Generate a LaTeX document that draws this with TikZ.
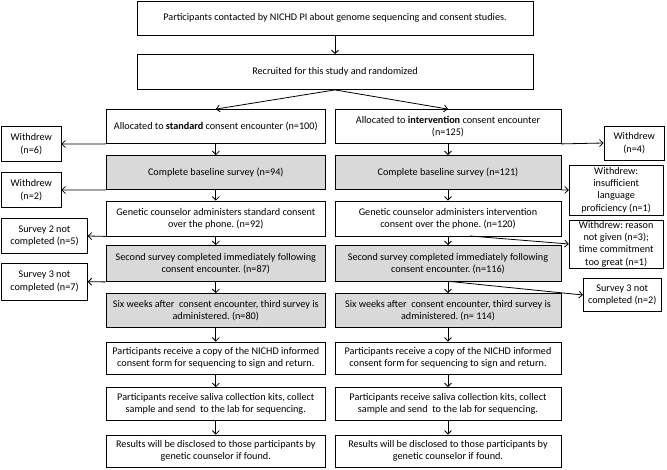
\documentclass[tikz,border=0pt]{standalone}
\usepackage{fontspec}
\setmainfont{Carlito}
\usetikzlibrary{arrows.meta}
\definecolor{gris}{RGB}{217,217,217}
\begin{document}
\begin{tikzpicture}[x=1pt,y=-1pt,
    caja/.style={draw, line width=0.8pt, align=center, inner sep=0pt,
      minimum height=34pt, font=\fontsize{10.2}{12.4}\selectfont\frenchspacing},
    izq/.style={caja, minimum width=219.5pt},
    der/.style={caja, minimum width=226pt},
    sombra/.style={fill=gris},
    flecha/.style={line width=0.8pt, -{Straight Barb[length=3.5pt,width=7pt]}}]
    \useasboundingbox (0,0) rectangle (667,470);

    % Inicio
    \node[caja, minimum width=396pt] (contacto) at (335,18) {Participants contacted by NICHD PI about genome sequencing and consent studies.};
    \node[caja, minimum width=396pt, minimum height=35pt] (reclutado) at (335,72) {Recruited for this study and randomized};

    % Columna estandar
    \node[izq] (asigE) at (215.8,126.5) {Allocated to \textbf{standard} consent encounter (n=100)};
    \node[izq, sombra] (baseE) at (215.8,172.5) {Complete baseline survey (n=94)};
    \node[izq, minimum height=35pt] (consejoE) at (215.8,218.5) {Genetic counselor administers standard consent\\over the phone. (n=92)};
    \node[izq, sombra, minimum height=36pt] (segundaE) at (215.8,263.5) {Second survey completed immediately following\\consent encounter. (n=87)};
    \node[izq, sombra] (terceraE) at (215.8,310.5) {Six weeks after\ \ consent encounter, third survey is\\administered. (n=80)};
    \node[izq, minimum height=32pt] (formaE) at (215.8,358) {Participants receive a copy of the NICHD informed\\consent form for sequencing to sign and return.};
    \node[izq, minimum height=33pt] (salivaE) at (215.8,404) {Participants receive saliva collection kits, collect\\sample and send\ \ to the lab for sequencing.};
    \node[izq, minimum height=32pt] (resultE) at (215.8,451) {Results will be disclosed to those participants by\\genetic counselor if found.};

    % Columna intervencion
    \node[der] (asigI) at (448,126.5) {Allocated to \textbf{intervention} consent encounter\\(n=125)};
    \node[der, sombra] (baseI) at (448,172.5) {Complete baseline survey (n=121)};
    \node[der, minimum height=35pt] (consejoI) at (448,218.5) {Genetic counselor administers intervention\\consent over the phone. (n=120)};
    \node[der, sombra, minimum height=36pt] (segundaI) at (448,263.5) {Second survey completed immediately following\\consent encounter. (n=116)};
    \node[der, sombra] (terceraI) at (448,310.5) {Six weeks after\ \ consent encounter, third survey is\\administered. (n= 114)};
    \node[der, minimum height=32pt] (formaI) at (448,358) {Participants receive a copy of the NICHD informed\\consent form for sequencing to sign and return.};
    \node[der, minimum height=33pt] (salivaI) at (448,404) {Participants receive saliva collection kits, collect\\sample and send\ \ to the lab for sequencing.};
    \node[der, minimum height=32pt] (resultI) at (448,451) {Results will be disclosed to those participants by\\genetic counselor if found.};

    % Bajas a la izquierda
    \node[caja, minimum width=59.3pt, minimum height=35pt] (bajaE1) at (31.3,144) {Withdrew\\(n=6)};
    \node[caja, minimum width=59.3pt, minimum height=34.6pt] (bajaE2) at (31.3,190) {Withdrew\\(n=2)};
    \node[caja, minimum width=85.6pt, minimum height=35pt] (faltaE2) at (44.5,236) {Survey 2 not\\completed (n=5)};
    \node[caja, minimum width=85.6pt, minimum height=36.7pt] (faltaE3) at (44.5,281.7) {Survey 3 not\\completed (n=7)};

    % Bajas a la derecha
    \node[caja, minimum width=60.7pt] (bajaI1) at (634.3,143) {Withdrew\\(n=4)};
    \node[caja, minimum width=94pt, minimum height=50pt] (bajaI2) at (616.2,190) {Withdrew:\\insufficient\\language\\proficiency (n=1)};
    \node[caja, minimum width=94pt, minimum height=48pt] (bajaI3) at (616.2,244) {Withdrew: reason\\not given (n=3);\\time commitment\\too great (n=1)};
    \node[caja, minimum width=77.7pt, minimum height=33.4pt] (faltaI3) at (622.2,295) {Survey 3 not\\completed (n=2)};

    % Flechas
    \draw[flecha] (contacto) -- (reclutado);
    \draw[flecha] (reclutado.south) -- (asigE.north);
    \draw[flecha] (reclutado.south) -- (asigI.north);

    \draw[flecha] (asigE) -- (baseE);
    \draw[flecha] (baseE) -- (consejoE);
    \draw[flecha] (consejoE) -- (segundaE);
    \draw[flecha] (segundaE) -- (terceraE);
    \draw[flecha] (terceraE) -- (formaE);
    \draw[flecha] (formaE) -- (salivaE);
    \draw[flecha] (salivaE) -- (resultE);

    \draw[flecha] (asigI) -- (baseI);
    \draw[flecha] (baseI) -- (consejoI);
    \draw[flecha] (consejoI) -- (segundaI);
    \draw[flecha] (segundaI) -- (terceraI);
    \draw[flecha] (terceraI) -- (formaI);
    \draw[flecha] (formaI) -- (salivaI);
    \draw[flecha] (salivaI) -- (resultI);

    \draw[flecha] (asigE.south west) -- (bajaE1.east);
    \draw[flecha] (baseE.south west) -- (bajaE2.east);
    \draw[flecha] (consejoE.south west) -- (faltaE2.east);
    \draw[flecha] (segundaE.south west) -- (faltaE3.east);

    \coordinate (salidaA) at (470,236);
    \coordinate (salidaB) at (450,281.5);
    \draw[flecha] (asigI.south east) -- (bajaI1.west);
    \draw[flecha] (baseI.south east) -- (bajaI2.west);
    \draw[flecha] (salidaA) -- (bajaI3.west);
    \draw[flecha] (salidaB) -- (faltaI3.west);
\end{tikzpicture}
\end{document}
